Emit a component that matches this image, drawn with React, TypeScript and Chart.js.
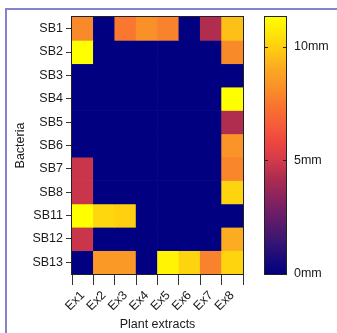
import React, { useEffect, useRef } from "react";
import { Chart, registerables } from "chart.js";
Chart.register(...registerables);

const bacteria = ["SB1", "SB2", "SB3", "SB4", "SB5", "SB6", "SB7", "SB8", "SB11", "SB12", "SB13"];
const extracts = ["Ex1", "Ex2", "Ex3", "Ex4", "Ex5", "Ex6", "Ex7", "Ex8"];

const sb1 = [8.0, 0, 7.5, 8.2, 7.8, 0, 4.3, 9.6];
const sb2 = [11.3, 0, 0, 0, 0, 0, 0, 8.0];
const sb3 = [0, 0, 0, 0, 0, 0, 0, 0];
const sb4 = [0, 0, 0, 0, 0, 0, 0, 11.3];
const sb5 = [0, 0, 0, 0, 0, 0, 0, 4.3];
const sb6 = [0, 0, 0, 0, 0, 0, 0, 8.3];
const sb7 = [4.8, 0, 0, 0, 0, 0, 0, 7.9];
const sb8 = [4.8, 0, 0, 0, 0, 0, 0, 10.1];
const sb11 = [11.3, 10.2, 10.0, 0, 0, 0, 0, 0];
const sb12 = [4.8, 0, 0, 0, 0, 0, 0, 9.1];
const sb13 = [0, 8.5, 8.5, 0, 11.0, 10.1, 7.8, 10.1];
const rowValues = [sb1, sb2, sb3, sb4, sb5, sb6, sb7, sb8, sb11, sb12, sb13];

const scaleMin = 0;
const scaleMax = 11.3;
const scaleTicks = [0, 5, 10];

const colorStops: [number, number[]][] = [
  [0, [0, 0, 128]],
  [1.5, [58, 22, 114]],
  [3.0, [122, 32, 98]],
  [4.3, [177, 45, 79]],
  [5.0, [210, 58, 75]],
  [5.8, [238, 70, 64]],
  [6.5, [246, 90, 58]],
  [7.5, [249, 119, 46]],
  [8.0, [249, 138, 42]],
  [9.0, [252, 168, 34]],
  [10.0, [254, 208, 16]],
  [11.3, [255, 255, 0]],
];

function colorFor(v: number): string {
  if (v <= colorStops[0][0]) return rgb(colorStops[0][1]);
  for (let i = 1; i < colorStops.length; i++) {
    const [v1, c1] = colorStops[i];
    const [v0, c0] = colorStops[i - 1];
    if (v <= v1) {
      const t = (v - v0) / (v1 - v0);
      return rgb(c0.map((c, k) => c + (c1[k] - c) * t));
    }
  }
  return rgb(colorStops[colorStops.length - 1][1]);
}
function rgb(c: number[]) {
  return `rgb(${Math.round(c[0])},${Math.round(c[1])},${Math.round(c[2])})`;
}

const FONT = "'Liberation Sans', Arial, sans-serif";
const TXT = "#1a1a1a";

export default function App() {
  const heatRef = useRef<HTMLCanvasElement>(null);
  const barRef = useRef<HTMLCanvasElement>(null);

  useEffect(() => {
    const borderPlugin = {
      id: "frameBorder",
      afterDatasetsDraw(chart: any) {
        const { ctx, chartArea: a } = chart;
        ctx.save();
        ctx.strokeStyle = "#222";
        ctx.lineWidth = 1;
        ctx.strokeRect(Math.round(a.left) - 0.5, Math.round(a.top) - 0.5, Math.round(a.right - a.left) + 1, Math.round(a.bottom - a.top) + 1);
        ctx.restore();
      },
    };

    const heat = new Chart(heatRef.current!, {
      type: "bar",
      data: {
        labels: extracts,
        datasets: bacteria.map((name, i) => ({
          label: name,
          data: extracts.map(() => 1),
          backgroundColor: rowValues[i].map((v) => colorFor(v)),
          borderWidth: 0,
          barPercentage: 1,
          categoryPercentage: 1,
        })),
      },
      options: {
        animation: false,
        responsive: false,
        maintainAspectRatio: false,
        layout: { padding: { left: 13, top: 17, right: 17, bottom: 0 } },
        plugins: { legend: { display: false }, tooltip: { enabled: false } },
        scales: {
          x: {
            stacked: true,
            grid: { drawOnChartArea: false, tickLength: 11, color: "#333", tickColor: "#333" },
            border: { display: false },
            ticks: {
              maxRotation: 45,
              minRotation: 45,
              autoSkip: false,
              color: TXT,
              font: { family: FONT, size: 12.5 },
              padding: 3,
            },
            title: { display: true, text: "Plant extracts", color: TXT, font: { family: FONT, size: 12.5 }, padding: { top: 0, bottom: 1 } },
            afterFit: (s: any) => { s.height = 59; },
          },
          y: {
            stacked: true,
            min: 0,
            max: bacteria.length,
            reverse: true,
            grid: { drawOnChartArea: false, tickLength: 6, color: "#333", tickColor: "#333" },
            border: { display: false },
            afterBuildTicks: (axis: any) => {
              axis.ticks = bacteria.map((_, i) => ({ value: i + 0.5 }));
            },
            ticks: {
              color: TXT,
              font: { family: FONT, size: 12.5 },
              padding: 3,
              autoSkip: false,
              callback: (v: any) => bacteria[Math.floor(Number(v))],
            },
            title: { display: true, text: "Bacteria", color: TXT, font: { family: FONT, size: 12.5 }, padding: { top: 0, bottom: 0 } },
            afterFit: (s: any) => { s.width = 59; },
          },
        },
      },
      plugins: [borderPlugin],
    } as any);

    const barTicksPlugin = {
      id: "barTicks",
      afterDatasetsDraw(chart: any) {
        const { ctx, chartArea: a } = chart;
        const ys = chart.scales.y;
        ctx.save();
        ctx.strokeStyle = "#222";
        ctx.lineWidth = 1;
        scaleTicks.forEach((t) => {
          if (t === scaleMin) return;
          const y = Math.round(ys.getPixelForValue(t)) + 0.5;
          ctx.beginPath();
          ctx.moveTo(a.left, y); ctx.lineTo(a.left + 3, y);
          ctx.moveTo(a.right - 3, y); ctx.lineTo(a.right, y);
          ctx.stroke();
        });
        ctx.strokeRect(Math.round(a.left) - 0.5, Math.round(a.top) - 0.5, Math.round(a.right - a.left) + 1, Math.round(a.bottom - a.top) + 1);
        ctx.restore();
      },
    };

    const bar = new Chart(barRef.current!, {
      type: "bar",
      data: {
        labels: [""],
        datasets: [
          {
            data: [scaleMax],
            barPercentage: 1,
            categoryPercentage: 1,
            borderWidth: 0,
            backgroundColor: (c: any) => {
              const chart = c.chart;
              const area = chart.chartArea;
              if (!area) return "#000080";
              const g = chart.ctx.createLinearGradient(0, area.bottom, 0, area.top);
              colorStops.forEach(([v, col]) => g.addColorStop((v - scaleMin) / (scaleMax - scaleMin), rgb(col)));
              return g;
            },
          },
        ],
      },
      options: {
        animation: false,
        responsive: false,
        maintainAspectRatio: false,
        layout: { padding: { left: 15, top: 17, right: 0, bottom: 59 } },
        plugins: { legend: { display: false }, tooltip: { enabled: false } },
        scales: {
          x: { display: false },
          y: {
            position: "right",
            min: scaleMin,
            max: scaleMax,
            afterBuildTicks: (axis: any) => {
              axis.ticks = scaleTicks.map((v) => ({ value: v }));
            },
            grid: { display: false, drawTicks: false },
            border: { display: false },
            ticks: {
              color: TXT,
              font: { family: FONT, size: 12.5 },
              padding: 8,
              callback: (v: any) => `${v}mm`,
            },
            afterFit: (s: any) => { s.width = 51; },
          },
        },
      },
      plugins: [barTicksPlugin],
    } as any);

    return () => {
      heat.destroy();
      bar.destroy();
    };
  }, []);

  return (
    <div style={{ position: "fixed", left: 0, top: 0, width: 337, height: 333, background: "#fff", overflow: "hidden" }}>
      <div
        style={{
          position: "absolute",
          left: 5,
          top: 8,
          width: 400,
          height: 400,
          borderTop: "2px solid #8484cc",
          borderLeft: "2px solid #8484cc",
        }}
      />
      <canvas ref={heatRef} width={260} height={333} style={{ position: "absolute", left: 0, top: 0, width: 260, height: 333 }} />
      <canvas ref={barRef} width={87} height={333} style={{ position: "absolute", left: 250, top: 0, width: 87, height: 333 }} />
    </div>
  );
}
